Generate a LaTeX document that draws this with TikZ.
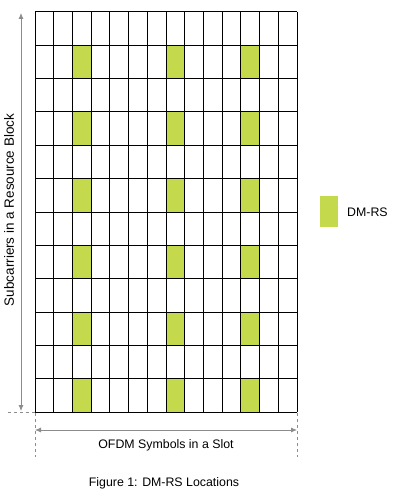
\documentclass[tikz,border=0pt]{standalone}
\usepackage{fontspec}
\setmainfont{Liberation Sans}
\usetikzlibrary{arrows.meta}
\definecolor{dmrs}{RGB}{197,217,76}
\definecolor{guide}{RGB}{140,140,140}
\begin{document}
\begin{tikzpicture}[x=1bp,y=-1bp,
  gridline/.style={line width=1bp,black},
  dmcell/.style={fill=dmrs},
  guidearrow/.style={guide,line width=0.8bp,{Latex[length=6bp,width=5bp]}-{Latex[length=6bp,width=5bp]}},
  guidedash/.style={guide,line width=0.6bp,dash pattern=on 3bp off 3bp},
  lbl/.style={font=\fontsize{12.4}{14}\selectfont,inner sep=0pt},
  vlbl/.style={font=\fontsize{13.5}{15}\selectfont,inner sep=0pt,rotate=90}]
\useasboundingbox (0,0) rectangle (395,494);
\fill[white] (0,0) rectangle (395,494);
% green cells
\foreach \c in {2,7,11}{
  \foreach \r in {1,3,5,7,9,11}{
    \fill[dmcell] ({35+\c*262/14},{12+\r*400/12}) rectangle ({35+(\c+1)*262/14},{12+(\r+1)*400/12});
  }
}
% grid
\foreach \c in {0,...,14}{
  \draw[gridline] ({35+\c*262/14},12) -- ({35+\c*262/14},412);
}
\foreach \r in {0,...,12}{
  \draw[gridline] (35,{12+\r*400/12}) -- (297,{12+\r*400/12});
}
% coordinates
\coordinate (vt) at (21,13);
\coordinate (vb) at (21,411);
\coordinate (hl) at (35,430);
\coordinate (hr) at (297,430);
\draw[guidearrow] (vb) -- (vt);
\draw[guidearrow] (hl) -- (hr);
\draw[guidedash] (8,412) -- (35,412);
\draw[guidedash] (35,413) -- (35,457);
\draw[guidedash] (297,413) -- (297,457);
% labels
\node[vlbl] (ylab) at (9,210) {Subcarriers in a Resource Block};
\node[lbl] (xlab) at (166,445) {OFDM Symbols in a Slot};
\node[lbl] (cap) at (164,483) {Figure 1: DM-RS Locations};
% legend
\fill[dmcell] (320,196) rectangle (338,227);
\node[lbl,anchor=west] (leg) at (347,212) {DM-RS};
\end{tikzpicture}
\end{document}
